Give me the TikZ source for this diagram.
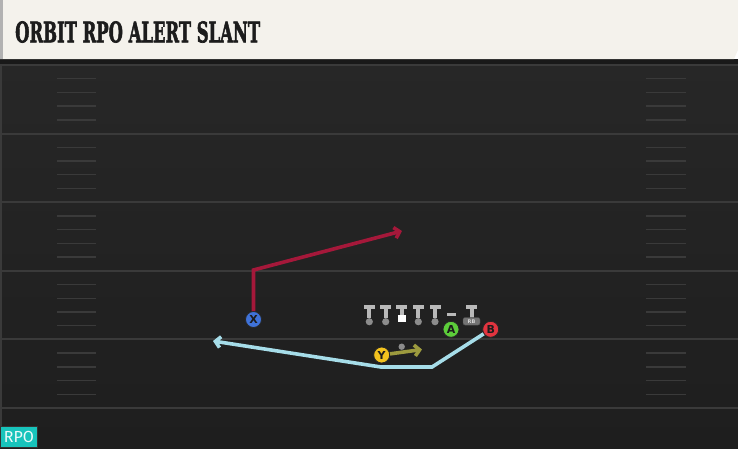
\documentclass[tikz,border=0pt]{standalone}
\usepackage{fontspec}
\usepackage{graphicx}
\usepackage{tikz}
\usetikzlibrary{arrows, arrows.meta}

\newfontfamily\titlefont{DejaVu Serif}[BoldFeatures={FakeBold=2.5}]
\newfontfamily\badgefont{Fira Sans}
\newfontfamily\playerfont{DejaVu Sans}

\definecolor{fieldtop}{HTML}{272727}
\definecolor{fieldbot}{HTML}{1E1E1E}
\definecolor{yard}{HTML}{3A3A3A}
\definecolor{paper}{HTML}{F4F2EC}
\definecolor{ink}{HTML}{1C1C1C}
\definecolor{slantred}{HTML}{A5183A}
\definecolor{orbitblue}{HTML}{A6DDE9}
\definecolor{motionolive}{HTML}{9C9A3E}
\definecolor{xblue}{HTML}{3F72D8}
\definecolor{agreen}{HTML}{5CCD3A}
\definecolor{bred}{HTML}{E2343F}
\definecolor{yyellow}{HTML}{F2C21E}
\definecolor{rpoteal}{HTML}{18C4BC}
\definecolor{linegray}{HTML}{B9B9B9}
\definecolor{dotgray}{HTML}{8C8C8C}

\tikzset{
	player/.style={circle, draw=black!85, line width=0.8pt, minimum size=16pt, inner sep=0pt,
		font=\playerfont\bfseries\fontsize{11}{11}\selectfont, text=ink},
	route/.style={line width=3.6pt, -{Straight Barb[length=5pt,width=11pt]}},
	yardline/.style={draw=yard, line width=2pt},
	hash/.style={draw=yard, line width=1.4pt},
}

\begin{document}
\begin{tikzpicture}[x=1pt,y=-1pt]
	\useasboundingbox (0,0) rectangle (738,448);

	%field
	\shade[top color=fieldtop, bottom color=fieldbot] (0,59) rectangle (738,448);
	\fill[black!90] (0,59) rectangle (738,64);
	\fill[yard] (0,64) rectangle (2,448);
	\foreach \s in {0,...,5}
		\draw[yardline] (2,65+\s*68.6)--(738,65+\s*68.6);
	\foreach \s in {0,...,4}
		\foreach \h in {1,...,4} {
			\draw[hash] (57,65+\s*68.6+\h*13.72)--(96,65+\s*68.6+\h*13.72);
			\draw[hash] (646,65+\s*68.6+\h*13.72)--(686,65+\s*68.6+\h*13.72);
		}

	%title bar
	\fill[paper] (0,0)--(738,0)--(738,50)--(734,59)--(0,59)--cycle;
	\fill[black!30] (0,0) rectangle (3,59);
	\node[anchor=west, inner sep=0pt, text=ink] (title) at (15,32)
		{\resizebox{245pt}{21pt}{\titlefont\bfseries ORBIT RPO ALERT SLANT}};

	%line
	\foreach \x in {369.3,385.7,418.3,435} {
		\fill[linegray] (\x-5.5,305) rectangle (\x+5.5,309);
		\fill[linegray] (\x-2,309) rectangle (\x+2,318);
		\fill[dotgray] (\x,321.7) circle (3.6);
	}
	\fill[linegray] (396,305) rectangle (407,309);
	\fill[linegray] (399.7,309) rectangle (403.7,315);
	\fill[white] (397.5,315) rectangle (405.7,322.3);
	\fill[linegray] (446.5,313.3) rectangle (455.5,315.8);
	\fill[linegray] (466,305) rectangle (477.3,309);
	\fill[linegray] (469.7,309) rectangle (473.7,318);
	\node[fill=black!55, draw=black!70, rounded corners=2pt, minimum width=17pt, minimum height=7.5pt,
		inner sep=0pt, text=black!15, font=\playerfont\bfseries\fontsize{5}{5}\selectfont] (rb) at (471.5,321.3) {RB};
	\fill[dotgray] (401.7,346.7) circle (3.2);

	%players
	\node[player, fill=xblue]   (X) at (253.5,319.5) {X};
	\node[player, fill=agreen]  (A) at (451,329.3)   {A};
	\node[player, fill=bred]    (B) at (490.7,329.3) {B};
	\node[player, fill=yyellow] (Y) at (381.7,355)   {Y};

	%routes
	\coordinate (xbreak) at (253.5,270);
	\coordinate (xend)   at (402,231);
	\coordinate (bcut)   at (432,367);
	\coordinate (bflat)  at (381,367);
	\coordinate (bend)   at (213,341);
	\coordinate (yend)   at (422,349.5);
	\draw[route, slantred] (X)--(xbreak)--(xend);
	\draw[route, orbitblue] (B)--(bcut)--(bflat)--(bend);
	\draw[route, motionolive] (Y)--(yend);

	%badge
	\node[fill=rpoteal, draw=black!80, line width=0.8pt, anchor=south west, minimum width=37pt, minimum height=21pt,
		inner sep=0pt, text=white!92!rpoteal, font=\badgefont\fontsize{16}{16}\selectfont] (rpo) at (0,448) {RPO};
\end{tikzpicture}
\end{document}
